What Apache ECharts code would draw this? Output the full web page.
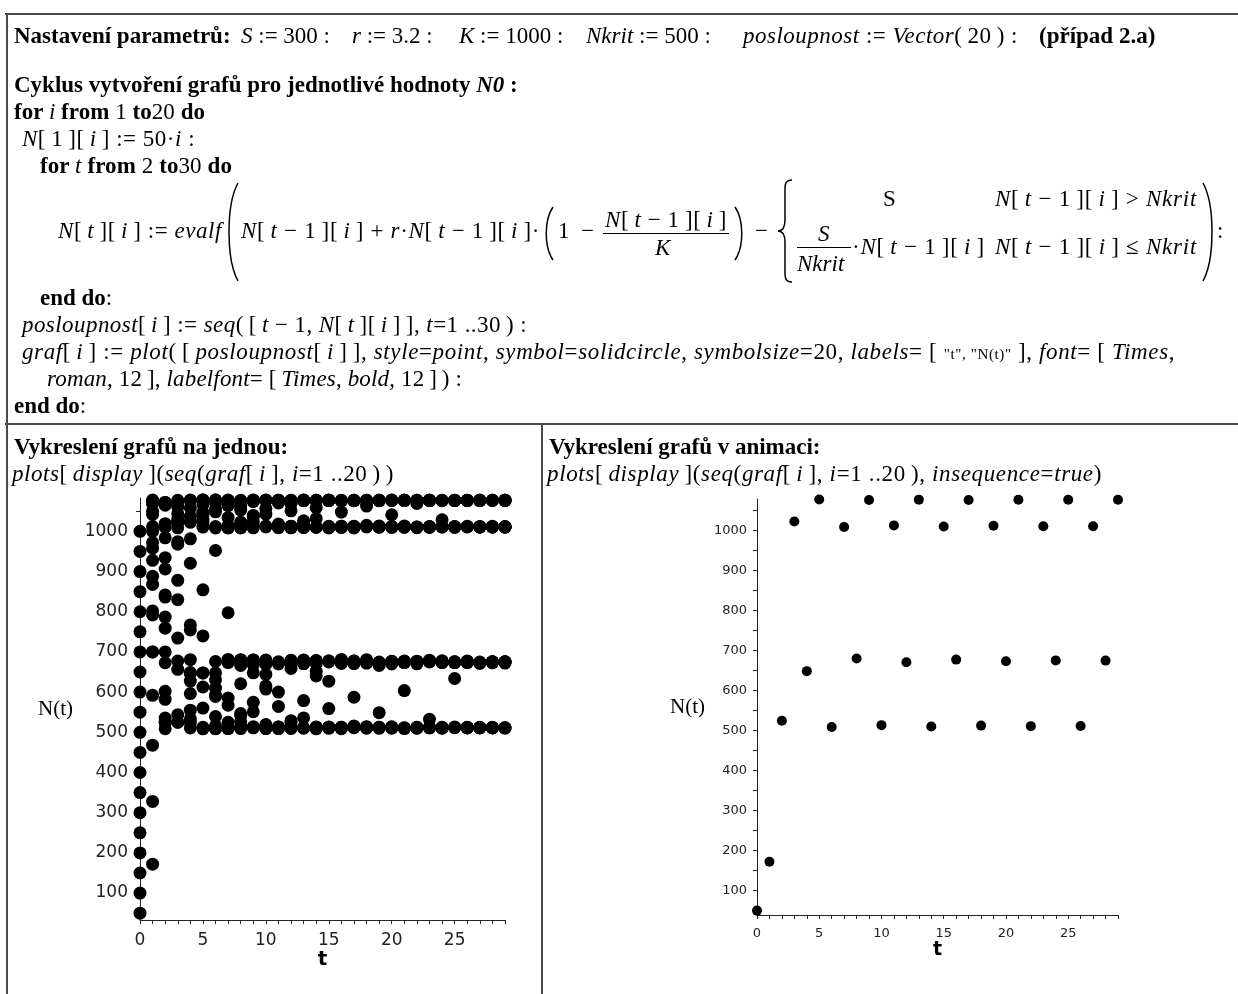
<!DOCTYPE html>
<html>
<head>
<meta charset="utf-8">
<script src="https://cdn.jsdelivr.net/npm/echarts@6/dist/echarts.min.js"></script>
<style>
  body { margin: 0; background: #fff; }
  #page { position: relative; width: 1238px; height: 994px; overflow: hidden; background: #fff;
          font-family: "Liberation Serif", "Times New Roman", serif; font-size: 23px; color: #000; }
  #chart { position: absolute; left: 0; top: 0; width: 1238px; height: 994px; }
  #marks { position: absolute; left: 0; top: 0; }
  .t { position: absolute; white-space: pre; line-height: 27px; }
  .rule { position: absolute; background: #4a4a4a; }
  .bar { position: absolute; height: 1px; background: #000; }
  .str { font-size: 15px; }
</style>
</head>
<body>
<div id="page">
  <div id="chart"></div>
  <svg id="marks" width="1238" height="994"></svg>
</div>
<script>
  // hodnoty t (osa x) a popisky os
  const tValues = [0, 1, 2, 3, 4, 5, 6, 7, 8, 9, 10, 11, 12, 13, 14, 15, 16, 17, 18, 19, 20, 21, 22, 23, 24, 25, 26, 27, 28, 29];
  const tLabels = [0, 5, 10, 15, 20, 25];
  const nLabels = [100, 200, 300, 400, 500, 600, 700, 800, 900, 1000];
  const nTicks = [50, 100, 150, 200, 250, 300, 350, 400, 450, 500, 550, 600, 650, 700, 750, 800, 850, 900, 950, 1000, 1050];

  // posloupnosti N(t) pro N0 = 50, 100, ... 1000
  const s1  = [50, 172, 524.5, 1022.6, 648.6, 1077.9, 509.1, 1008.8, 680.3, 1076.3, 513.6, 1013.0, 670.9, 1077.4, 510.4, 1010.1, 677.5, 1076.7, 512.5, 1012.0, 673.2, 1077.2, 511.1, 1010.9, 675.5, 1077.0, 511.4, 1011.0, 675.0, 1077.1];
  const s2  = [100, 328, 836.5, 974.2, 754.7, 1047.1, 589.3, 1063.8, 546.7, 1039.7, 607.6, 1070.6, 528.9, 1026.2, 640.2, 1077.3, 510.8, 1010.4, 676.7, 1076.8, 512.2, 1011.7, 673.8, 1077.1, 511.4, 1011.1, 675.0, 1077.1, 511.4, 1011.0];
  const s3  = [150, 468, 983.9, 734.5, 1058.5, 560.3, 1048.7, 585.3, 1062.0, 551.2, 1042.8, 600.0, 1068.0, 535.7, 1031.6, 627.3, 1075.4, 515.8, 1015.0, 666.2, 1077.8, 509.4, 1009.2, 679.6, 1076.4, 513.3, 1012.7, 671.5, 1077.4, 510.6];
  const s4  = [200, 592, 1064.9, 543.7, 1037.6, 612.8, 1072.1, 524.8, 1022.8, 648.1, 1077.9, 509.2, 1008.9, 680.2, 1076.3, 513.5, 1013.0, 671.0, 1077.4, 510.5, 1010.1, 677.4, 1076.7, 512.4, 1011.9, 673.4, 1077.2, 511.1, 1010.9, 675.5];
  const s5  = [250, 700, 1072.0, 525.0, 1023.0, 647.7, 1077.9, 509.2, 1008.9, 680.2, 1076.3, 513.5, 1013.0, 670.9, 1077.4, 510.5, 1010.1, 677.4, 1076.7, 512.4, 1011.9, 673.4, 1077.2, 511.1, 1010.9, 675.5, 1077.0, 511.4, 1011.0, 675.0];
  const s6  = [300, 792, 1019.2, 656.7, 1078.1, 508.6, 1008.4, 681.4, 1076.1, 514.0, 1013.4, 670.0, 1077.5, 510.2, 1009.9, 678.0, 1076.6, 512.6, 1012.2, 672.8, 1077.3, 510.9, 1010.6, 676.3, 1076.9, 511.9, 1011.5, 674.2, 1077.1, 511.2];
  const s7  = [350, 868, 934.6, 830.1, 981.4, 739.9, 1055.8, 567.4, 1052.9, 574.8, 1056.9, 564.5, 1051.2, 579.0, 1059.0, 559.1, 1047.9, 587.3, 1062.9, 548.9, 1041.3, 603.8, 1069.3, 532.2, 1028.9, 633.9, 1076.5, 512.9, 1012.4, 672.3];
  const s8  = [400, 928, 841.8, 967.9, 767.2, 1038.7, 610.0, 1071.3, 526.9, 1024.6, 644.0, 1077.6, 509.9, 1009.6, 678.6, 1076.5, 512.9, 1012.4, 672.3, 1077.4, 510.6, 1010.3, 677.0, 1076.7, 512.3, 1011.8, 673.6, 1077.2, 511.1, 1010.8];
  const s9  = [450, 972, 759.1, 1044.3, 596.3, 1066.6, 539.2, 1034.3, 620.8, 1074.1, 519.4, 1018.2, 658.8, 1078.1, 508.6, 1008.4, 681.4, 1076.1, 514.0, 1013.4, 670.0, 1077.5, 510.2, 1009.9, 678.0, 1076.6, 512.6, 1012.2, 672.8, 1077.3];
  const s10 = [500, 1000, 700, 1072.0, 525.0, 1023.0, 647.7, 1077.9, 509.2, 1008.9, 680.2, 1076.3, 513.5, 1013.0, 670.9, 1077.4, 510.5, 1010.1, 677.4, 1076.7, 512.4, 1011.9, 673.4, 1077.2, 511.1, 1010.9, 675.5, 1077.0, 511.4, 1011.0];
  const s11 = [550, 1042, 602.0, 1068.7, 533.8, 1030.1, 630.8, 1076.1, 514.2, 1013.5, 669.6, 1077.5, 510.2, 1009.9, 678.0, 1076.6, 512.6, 1012.2, 672.8, 1077.3, 510.9, 1010.6, 676.3, 1076.9, 511.9, 1011.5, 674.2, 1077.1, 511.2, 1010.9];
  const s12 = [600, 1068, 535.6, 1031.6, 627.4, 1075.4, 515.8, 1015.0, 666.2, 1077.8, 509.4, 1009.2, 679.6, 1076.4, 513.3, 1012.7, 671.5, 1077.4, 510.6, 1010.3, 677.0, 1076.7, 512.3, 1011.8, 673.6, 1077.2, 511.1, 1010.8, 675.6, 1077.0];
  const s13 = [650, 1078, 508.9, 1008.7, 680.7, 1076.2, 513.8, 1013.2, 670.4, 1077.5, 510.3, 1010.0, 677.7, 1076.6, 512.5, 1012.1, 673.0, 1077.3, 510.9, 1010.6, 676.3, 1076.9, 511.9, 1011.5, 674.2, 1077.1, 511.2, 1010.9, 675.3, 1077.0];
  const s14 = [700, 1072.0, 525.0, 1023.0, 647.7, 1077.9, 509.2, 1008.9, 680.2, 1076.3, 513.5, 1013.0, 670.9, 1077.4, 510.5, 1010.1, 677.4, 1076.7, 512.4, 1011.9, 673.4, 1077.2, 511.1, 1010.9, 675.5, 1077.0, 511.4, 1011.0, 675.0, 1077.1];
  const s15 = [750, 1050, 582, 1060.5, 555.2, 1045.5, 593.3, 1065.5, 542.3, 1036.6, 615.3, 1072.8, 523.0, 1021.3, 651.7, 1078.1, 508.8, 1008.6, 680.8, 1076.2, 513.8, 1013.2, 670.4, 1077.5, 510.3, 1010.0, 677.7, 1076.6, 512.5, 1012.1];
  const s16 = [800, 1012, 673.1, 1077.2, 511.0, 1010.6, 676.2, 1076.9, 511.9, 1011.5, 674.2, 1077.1, 511.2, 1010.9, 675.3, 1077.0, 511.5, 1011.2, 674.7, 1077.1, 511.3, 1011.0, 675.0, 1077.1, 511.4, 1011.1, 674.9, 1077.1, 511.4, 1011.0];
  const s17 = [850, 958, 786.8, 1023.6, 646.3, 1077.8, 509.4, 1009.2, 679.6, 1076.4, 513.3, 1012.7, 671.5, 1077.4, 510.6, 1010.3, 677.0, 1076.7, 512.3, 1011.8, 673.6, 1077.2, 511.1, 1010.8, 675.6, 1077.0, 511.4, 1011.1, 674.9, 1077.1];
  const s18 = [900, 888, 906.3, 878.1, 920.6, 854.5, 952.4, 797.5, 1014.3, 668.0, 1077.7, 509.8, 1009.5, 678.9, 1076.5, 512.9, 1012.4, 672.3, 1077.4, 510.6, 1010.3, 677.0, 1076.7, 512.3, 1011.8, 673.6, 1077.2, 511.1, 1010.8, 675.6];
  const s19 = [950, 802, 1010.2, 677.3, 1076.7, 512.4, 1011.9, 673.4, 1077.2, 511.1, 1010.9, 675.5, 1077.0, 511.4, 1011.0, 675.0, 1077.1, 511.4, 1011.0, 675.0, 1077.1, 511.4, 1011.0, 675.0, 1077.1, 511.4, 1011.0, 675.0, 1077.1, 511.4];
  const s20 = [1000, 700, 1072.0, 525.0, 1023.0, 647.7, 1077.9, 509.2, 1008.9, 680.2, 1076.3, 513.5, 1013.0, 670.9, 1077.4, 510.5, 1010.1, 677.4, 1076.7, 512.4, 1011.9, 673.4, 1077.2, 511.1, 1010.9, 675.5, 1077.0, 511.4, 1011.0, 675.0];

  const allSeries = [s1, s2, s3, s4, s5, s6, s7, s8, s9, s10, s11, s12, s13, s14, s15, s16, s17, s18, s19, s20];

  // ---- text listu (Maple worksheet) ----
  const page = document.getElementById('page');
  function put(x, base, html, width) {
    let el = document.createElement('div');
    el.className = 't';
    el.style.left = x + 'px';
    el.style.top = (base - 21.3) + 'px';
    el.innerHTML = html;
    page.appendChild(el);
    if (width) {
      // roztáhnout na šířku jako v originále
      let w = el.getBoundingClientRect().width;
      let n = el.textContent.length;
      el.style.letterSpacing = ((width - w) / n) + 'px';
    }
  }
  function rule(x, y, w, h) {
    let el = document.createElement('div');
    el.className = 'rule';
    el.style.left = x + 'px'; el.style.top = y + 'px';
    el.style.width = w + 'px'; el.style.height = h + 'px';
    page.appendChild(el);
  }
  function bar(x, y, w) {
    let el = document.createElement('div');
    el.className = 'bar';
    el.style.left = x + 'px'; el.style.top = y + 'px'; el.style.width = w + 'px';
    page.appendChild(el);
  }
  const th = '\u2009';
  const I = s => '<i>' + s + '</i>';
  const B = s => '<b>' + s + '</b>';
  const br = s => '[' + th + s + th + ']';
  const Ntm1 = I('N') + br(I('t') + ' − 1') + br(I('i'));
  const Nti = I('N') + br(I('t')) + br(I('i'));

  rule(5, 13, 1233, 2);
  rule(6, 13, 2, 981);
  rule(5, 423, 1233, 2);
  rule(541, 423, 2, 571);

  put(14, 43, B('Nastavení parametrů:'));
  put(241, 43, I('S') + ' := 300 :');
  put(352, 43, I('r') + ' := 3.2 :');
  put(459, 43, I('K') + ' := 1000 :');
  put(586, 43, I('Nkrit') + ' := 500 :');
  put(743, 43, I('posloupnost') + ' := ' + I('Vector') + '(' + th + '20' + th + ') :', 275);
  put(1039, 43, B('(případ 2.a)'));

  put(14, 92, B('Cyklus vytvoření grafů pro jednotlivé hodnoty ' + I('N0') + ' :'));
  put(14, 119, B('for ') + I('i') + B(' from ') + '1' + B(' to') + '20' + B(' do'), 191);
  put(22, 146, I('N') + br('1') + br(I('i')) + ' := 50·' + I('i') + ' :', 173);
  put(40, 173, B('for ') + I('t') + B(' from ') + '2' + B(' to') + '30' + B(' do'), 192);

  // vzorec
  put(58, 238, Nti + ' := ' + I('evalf'), 164);
  put(241, 238, Ntm1 + ' + ' + I('r') + '·' + Ntm1 + '·', 299);
  put(558, 238, '1 −', 39);
  put(605, 227, Ntm1, 122);
  bar(603, 233, 126);
  put(655, 255, I('K'));
  put(755, 238, '−');
  put(883, 206, 'S');
  put(995, 206, Ntm1 + ' &gt; ' + I('Nkrit'), 202);
  put(818, 241, I('S'));
  bar(797, 247, 54);
  put(797, 271, I('Nkrit'));
  put(852, 254, '·' + Ntm1, 133);
  put(995, 254, Ntm1 + ' ≤ ' + I('Nkrit'), 202);
  put(1217, 238, ':');

  put(40, 305, B('end do') + ':');
  put(22, 332, I('posloupnost') + br(I('i')) + ' := ' + I('seq') + '(' + th + '[' + th + I('t') + ' − 1, ' + Nti + th + '], ' + I('t') + '=1 ..30' + th + ') :', 505);
  put(22, 359, I('graf') + br(I('i')) + ' := ' + I('plot') + '(' + th + '[' + th + I('posloupnost') + br(I('i')) + th + '], ' + I('style') + '=' + I('point') + ', ' + I('symbol') + '=' + I('solidcircle') + ', ' + I('symbolsize') + '=20, ' + I('labels') + '= [ <span class="str">"t", "N(t)"</span> ], ' + I('font') + '= [ ' + I('Times') + ',', 1153);
  put(47, 386, I('roman') + ', 12' + th + '], ' + I('labelfont') + '= [' + th + I('Times') + ', ' + I('bold') + ', 12' + th + ']' + th + ') :', 415);
  put(14, 413, B('end do') + ':');

  put(14, 454, B('Vykreslení grafů na jednou:'));
  put(12, 481, I('plots') + br(I('display')) + '(' + I('seq') + '(' + I('graf') + br(I('i')) + ', ' + I('i') + '=1 ..20' + th + ')' + th + ')', 382);
  put(549, 454, B('Vykreslení grafů v animaci:'));
  put(547, 481, I('plots') + br(I('display')) + '(' + I('seq') + '(' + I('graf') + br(I('i')) + ', ' + I('i') + '=1 ..20' + th + '), ' + I('insequence') + '=' + I('true') + ')', 555);

  // velké závorky
  const svg = document.getElementById('marks');
  const paths = [
    'M238,183 C226,205 226,259 238,281',
    'M1203,183 C1215,205 1215,259 1203,281',
    'M553,207 C544,220 544,247 553,260',
    'M735,207 C744,220 744,247 735,260',
    'M792,180 C784,180 785,186 785,195 L785,220 C785,228 782,231 778,231 C782,231 785,234 785,242 L785,267 C785,276 784,282 792,282'
  ];
  svg.innerHTML = paths.map(d => '<path d="' + d + '" fill="none" stroke="#000" stroke-width="1.5"/>').join('');

  // ---- grafy ----
  let myChart = echarts.init(document.getElementById('chart'));

  function xAxisFor(gi, fontSize, nameGap, nameSize, margin) {
    return {
      gridIndex: gi, type: 'value', min: 0, max: 29,
      axisLine: { onZero: false, lineStyle: { color: '#222', width: 1 } },
      axisTick: { customValues: tValues, length: 4, lineStyle: { color: '#222' } },
      axisLabel: { customValues: tLabels, formatter: v => String(v), fontFamily: 'DejaVu Sans', fontSize: fontSize, color: '#222', margin: margin },
      splitLine: { show: false },
      name: 't', nameLocation: 'middle', nameGap: nameGap,
      nameTextStyle: { fontFamily: 'DejaVu Sans', fontWeight: 'bold', fontSize: nameSize, color: '#000' }
    };
  }
  function yAxisFor(gi, min, max, fontSize, nameGap, margin, nameSize) {
    return {
      gridIndex: gi, type: 'value', min: min, max: max,
      axisLine: { show: true, onZero: false, lineStyle: { color: '#222', width: 1 } },
      axisTick: { show: true, customValues: nTicks, length: 4, lineStyle: { color: '#222' } },
      axisLabel: { customValues: nLabels, formatter: v => String(v), fontFamily: 'DejaVu Sans', fontSize: fontSize, color: '#222', margin: margin },
      splitLine: { show: false },
      name: 'N(t)', nameLocation: 'middle', nameRotate: 0, nameGap: nameGap,
      nameTextStyle: { fontFamily: 'Liberation Serif', fontSize: nameSize, color: '#000' }
    };
  }

  let series = allSeries.map((s, k) => ({
    name: 'N0=' + (50 * (k + 1)),
    type: 'scatter', xAxisIndex: 0, yAxisIndex: 0,
    symbol: 'circle', symbolSize: 13,
    itemStyle: { color: '#000', opacity: 1 },
    data: s.map((v, j) => [tValues[j], v])
  }));
  series.push({
    name: 'animace', type: 'scatter', xAxisIndex: 1, yAxisIndex: 1,
    symbol: 'circle', symbolSize: 10,
    itemStyle: { color: '#000', opacity: 1 },
    data: s1.map((v, j) => [tValues[j], v])
  });

  let option = {
    animation: false,
    grid: [
      { left: 140, top: 498, width: 365, height: 422 },
      { left: 757, top: 499, width: 361, height: 416 }
    ],
    xAxis: [xAxisFor(0, 17, 21, 20, 12), xAxisFor(1, 13, 22, 19, 12)],
    yAxis: [yAxisFor(0, 33, 1083, 17, 67, 12, 21), yAxisFor(1, 39, 1079, 13, 52, 10, 21)],
    series: series
  };
  option && myChart.setOption(option);
</script>
</body>
</html>
